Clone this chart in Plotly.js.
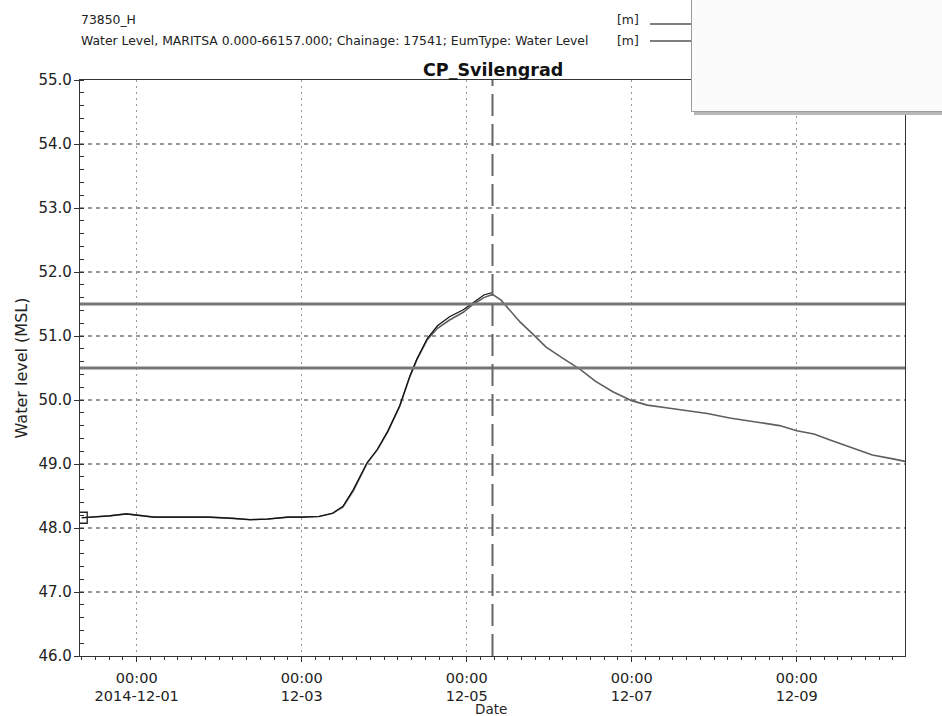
<!DOCTYPE html>
<html>
<head>
<meta charset="utf-8">
<script src="https://cdn.plot.ly/plotly-3.0.1.min.js"></script>
<style>html,body{margin:0;padding:0;background:#fff;}#chart{width:942px;height:716px;}</style>
</head>
<body>
<div id="chart"></div>
<script>
// ---- data ----
const simTimes = [
 '2014-11-30 08:00','2014-11-30 12:00','2014-11-30 16:00','2014-11-30 21:00','2014-12-01 00:00',
 '2014-12-01 05:00','2014-12-01 12:00','2014-12-01 21:00','2014-12-02 04:00','2014-12-02 09:00',
 '2014-12-02 14:00','2014-12-02 20:00','2014-12-03 00:00','2014-12-03 05:00','2014-12-03 09:00',
 '2014-12-03 12:00','2014-12-03 15:00','2014-12-03 19:00','2014-12-03 22:00','2014-12-04 01:00',
 '2014-12-04 04:30','2014-12-04 07:30','2014-12-04 09:30','2014-12-04 12:30','2014-12-04 15:30',
 '2014-12-04 19:00','2014-12-04 23:00','2014-12-05 02:00','2014-12-05 05:00','2014-12-05 07:30',
 '2014-12-05 10:00','2014-12-05 12:30','2014-12-05 15:30','2014-12-05 20:00','2014-12-05 23:00',
 '2014-12-06 04:00','2014-12-06 09:00','2014-12-06 13:30','2014-12-06 18:30','2014-12-07 00:00',
 '2014-12-07 04:30','2014-12-07 10:00','2014-12-07 16:00','2014-12-07 22:00','2014-12-08 04:30',
 '2014-12-08 12:00','2014-12-08 19:00','2014-12-09 00:00','2014-12-09 05:00','2014-12-09 09:30',
 '2014-12-09 16:30','2014-12-09 22:00','2014-12-10 04:00','2014-12-10 07:30'];
const simLevel = [
 48.16,48.17,48.19,48.22,48.20,
 48.17,48.17,48.17,48.15,48.13,
 48.14,48.17,48.17,48.18,48.23,
 48.33,48.58,49.01,49.22,49.50,
 49.90,50.37,50.63,50.94,51.12,
 51.25,51.37,51.50,51.60,51.65,
 51.56,51.40,51.22,50.99,50.83,
 50.65,50.48,50.29,50.13,49.99,
 49.92,49.88,49.84,49.79,49.72,
 49.66,49.60,49.52,49.47,49.38,
 49.25,49.14,49.08,49.04];
const obsTimes = [
 '2014-11-30 08:00','2014-11-30 12:00','2014-11-30 16:00','2014-11-30 21:00','2014-12-01 00:00',
 '2014-12-01 05:00','2014-12-01 12:00','2014-12-01 21:00','2014-12-02 04:00','2014-12-02 09:00',
 '2014-12-02 14:00','2014-12-02 20:00','2014-12-03 00:00','2014-12-03 05:00','2014-12-03 09:00',
 '2014-12-03 12:00','2014-12-03 15:00','2014-12-03 19:00','2014-12-03 22:00','2014-12-04 01:00',
 '2014-12-04 04:30','2014-12-04 07:30','2014-12-04 09:30','2014-12-04 12:30','2014-12-04 15:30',
 '2014-12-04 19:00','2014-12-04 23:00','2014-12-05 02:00','2014-12-05 05:00','2014-12-05 07:30'];
const obsLevel = [
 48.16,48.17,48.19,48.22,48.20,
 48.17,48.17,48.17,48.15,48.13,
 48.14,48.17,48.17,48.18,48.23,
 48.34,48.60,49.02,49.23,49.51,
 49.91,50.38,50.64,50.96,51.16,
 51.30,51.41,51.53,51.64,51.68];
const thresholds = [51.5, 50.5];
const nowTime = '2014-12-05 07:30';
const tickVals = ['2014-12-01','2014-12-03','2014-12-05','2014-12-07','2014-12-09'];
const tickText = ['00:00<br>2014-12-01','00:00<br>12-03','00:00<br>12-05','00:00<br>12-07','00:00<br>12-09'];
const legendNames = ['73850_H','Water Level, MARITSA 0.000-66157.000; Chainage: 17541; EumType: Water Level'];
const legendUnits = ['[m]','[m]'];

// ---- geometry helpers (pixel -> paper) ----
const L=80, R=905, T=80, B=656;
const px = x => (x-L)/(R-L);
const py = y => (B-y)/(B-T);
const FONT = 'DejaVu Sans, Liberation Sans, Arial, sans-serif';

const traces = [
 {x: simTimes, y: simLevel, type:'scatter', mode:'lines', line:{color:'#5e5e5e', width:1.6}, showlegend:false, hoverinfo:'skip'},
 {x: obsTimes, y: obsLevel, type:'scatter', mode:'lines', line:{color:'#111', width:1.2}, showlegend:false, hoverinfo:'skip'},
 {x: [obsTimes[0]], y: [obsLevel[0]], type:'scatter', mode:'markers', marker:{symbol:'square-open', size:11, color:'#222', line:{width:1.3}}, showlegend:false, hoverinfo:'skip'}
];

const shapes = [];
thresholds.forEach(v => shapes.push({type:'line', xref:'paper', yref:'y', x0:0, x1:1, y0:v, y1:v, line:{color:'#777', width:3}, layer:'above'}));
shapes.push({type:'line', xref:'x', yref:'paper', x0:nowTime, x1:nowTime, y0:0, y1:1, line:{color:'#666', width:2, dash:'22px,8px'}, layer:'above'});
// legend line samples
[24, 41].forEach(y => shapes.push({type:'line', xref:'paper', yref:'paper', x0:px(650), x1:px(695), y0:py(y), y1:py(y), line:{color:'#555', width:1.5}}));
// floating box with shadow
shapes.push({type:'rect', xref:'paper', yref:'paper', x0:px(694), x1:px(950), y0:py(115), y1:py(-5), fillcolor:'#b8b8b8', line:{width:0}, layer:'above'});
shapes.push({type:'rect', xref:'paper', yref:'paper', x0:px(691.5), x1:px(950), y0:py(111.5), y1:py(-5), fillcolor:'#fbfbfb', line:{color:'#9a9a9a', width:1}, layer:'above'});

const annotations = [];
[20, 40].forEach((y,i) => {
  annotations.push({xref:'paper', yref:'paper', x:px(79), y:py(y), xanchor:'left', yanchor:'middle', showarrow:false, text:legendNames[i], font:{family:FONT, size:12.4, color:'#222'}});
  annotations.push({xref:'paper', yref:'paper', x:px(641), y:py(y), xanchor:'right', yanchor:'middle', showarrow:false, text:legendUnits[i], font:{family:FONT, size:12.4, color:'#222'}});
});
annotations.push({xref:'paper', yref:'paper', x:0.5, y:py(70), xanchor:'center', yanchor:'middle', showarrow:false, text:'<b>CP_Svilengrad</b>', font:{family:FONT, size:17.5, color:'#111'}});
annotations.push({xref:'paper', yref:'paper', x:px(491), y:py(709), xanchor:'center', yanchor:'middle', showarrow:false, text:'Date', font:{family:FONT, size:13.5, color:'#222'}});

const layout = {
  width:942, height:716,
  margin:{l:L, r:942-R, t:T, b:716-B},
  paper_bgcolor:'#fff', plot_bgcolor:'#fff',
  font:{family:FONT, size:15, color:'#222'},
  showlegend:false,
  xaxis:{
    type:'date', range:['2014-11-30 07:30','2014-12-10 07:30'],
    tickmode:'array', tickvals:tickVals, ticktext:tickText,
    ticks:'outside', ticklen:5, tickcolor:'#333', ticklabelstandoff:3,
    showgrid:true, gridcolor:'#999', griddash:'2px,4px', gridwidth:1.2,
    showline:true, linecolor:'#333', linewidth:1.2, mirror:true,
    zeroline:false, tickfont:{family:FONT, size:14.5, color:'#222'},
    minor:{tickmode:'linear', tick0:'2014-12-01', dtick:4*3600000, ticks:'outside', ticklen:3, tickcolor:'#333', showgrid:false}
  },
  yaxis:{
    range:[46,55], dtick:1, tick0:46, tickformat:'.1f',
    ticks:'outside', ticklen:5, tickcolor:'#333', ticklabelstandoff:-1,
    showgrid:true, gridcolor:'#999', griddash:'4px,4px', gridwidth:1.2,
    showline:true, linecolor:'#333', linewidth:1.2, mirror:true, zeroline:false,
    tickfont:{family:FONT, size:15, color:'#222'},
    title:{text:'Water level (MSL)', font:{family:FONT, size:16, color:'#222'}, standoff:6},
    minor:{dtick:0.2, ticks:'inside', ticklen:4, tickcolor:'#333', showgrid:false}
  },
  shapes:shapes, annotations:annotations
};
Plotly.newPlot('chart', traces, layout, {staticPlot:true, displayModeBar:false});
</script>
</body>
</html>
